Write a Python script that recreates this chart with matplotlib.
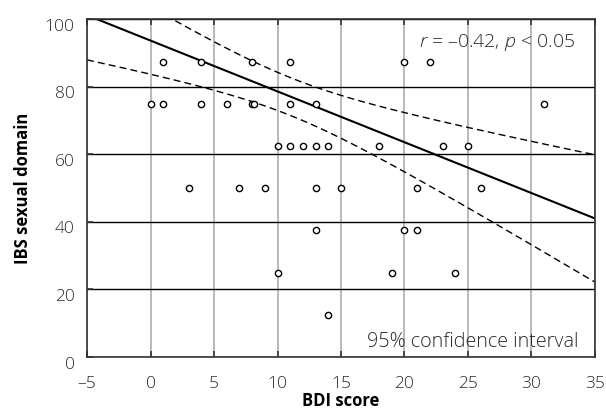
import numpy as np
import matplotlib
matplotlib.use("Agg")
import matplotlib.pyplot as plt
import matplotlib.transforms as mtransforms

plt.rcParams['font.family'] = ['Open Sans', 'DejaVu Sans']
plt.rcParams['mathtext.fontset'] = 'custom'
plt.rcParams['mathtext.rm'] = 'Open Sans:light'
plt.rcParams['mathtext.it'] = 'Open Sans:italic:light'

# Data
bdi = [1, 4, 8, 11, 20, 22,
       0, 1, 4, 6, 8, 8.15, 11, 13, 31,
       10, 11, 12, 13, 14, 18, 23, 25,
       3, 7, 9, 13, 15, 21, 26,
       13, 20, 21,
       10, 19, 24,
       14]
ibs = [87.5] * 6 + [75] * 9 + [62.5] * 8 + [50] * 7 + [37.5] * 3 + [25] * 3 + [12.5]

# regression line and 95% CI band
intercept = 93.7
slope = -1.505
ci_center = 11.0
ci_min_half = 5.6
ci_spread = 0.75

x_ticks = [-5, 0, 5, 10, 15, 20, 25, 30, 35]
y_ticks = [0, 20, 40, 60, 80, 100]

xs = np.linspace(-5, 35, 300)
yhat = intercept + slope * xs
half = np.sqrt(ci_min_half ** 2 + (ci_spread * (xs - ci_center)) ** 2)

fig = plt.figure(figsize=(6.06, 4.16), dpi=100)
ax = fig.add_axes([0.1436, 0.1418, 0.8382, 0.8118])

for xv in x_ticks:
    ax.axvline(xv, color='#b4b4b4', lw=1.3, zorder=0)
for yv in y_ticks:
    ax.axhline(yv, color='black', lw=1.0, zorder=0)

ax.plot(xs, yhat, color='black', lw=1.5, zorder=2)
ax.plot(xs, yhat + half, color='black', lw=1.0, ls=(0, (5, 3)), zorder=2)
ax.plot(xs, yhat - half, color='black', lw=1.0, ls=(0, (5, 3)), zorder=2)
ax.plot(bdi, ibs, 'o', mfc='white', mec='black', ms=4.5, mew=1.0, zorder=3)

ax.set_xlim(-5, 35)
ax.set_ylim(0, 100)
ax.set_xticks(x_ticks)
ax.set_yticks(y_ticks)
ax.set_xticklabels(['\u20135'] + [str(v) for v in x_ticks[1:]])
ax.tick_params(direction='in', length=4, width=1.2, color='#333333',
               top=True, right=False, labelsize=12.5, labelcolor='#2a2a2a')
ax.tick_params(axis='x', pad=14)
ax.tick_params(axis='y', pad=9)
for lab in ax.get_xticklabels() + ax.get_yticklabels():
    lab.set_fontweight('light')
off = mtransforms.ScaledTranslation(0, -4 / 72, fig.dpi_scale_trans)
for lab in ax.get_yticklabels():
    lab.set_transform(lab.get_transform() + off)
for sp in ax.spines.values():
    sp.set_linewidth(1.2)
    sp.set_color('#333333')

ax.set_xlabel('BDI score', fontsize=12, fontweight='bold', labelpad=0)
ax.set_ylabel('IBS sexual domain', fontsize=12, fontweight='bold', labelpad=9)

ax.text(33.4, 91.8, '$r$ = \u20130.42, $p$ < 0.05', ha='right', va='baseline',
        fontsize=14, color='#2a2a2a', fontweight='light')
ax.text(33.7, 2.9, '95% confidence interval', ha='right', va='baseline',
        fontsize=14.2, color='#2a2a2a', fontweight='light')

fig.savefig('out.png', dpi=100)
